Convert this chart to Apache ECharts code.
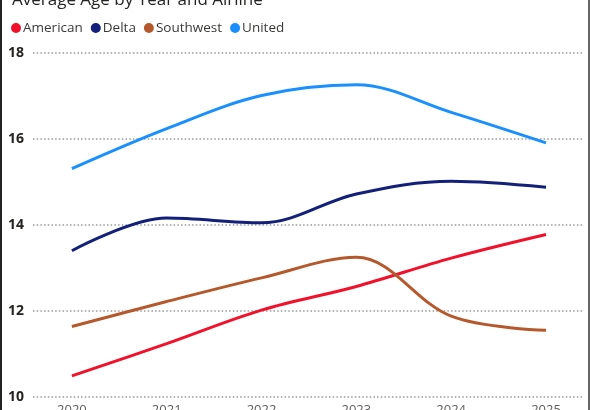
<!DOCTYPE html>
<html>
<head>
<meta charset="utf-8">
<style>
  html, body { margin: 0; padding: 0; background: #fff; }
  #wrap { position: relative; width: 590px; height: 410px; overflow: hidden; }
  #chart { width: 590px; height: 410px; }
  .edge { position: absolute; top: 0; bottom: 0; width: 2px; }
</style>
<script src="https://cdn.jsdelivr.net/npm/echarts@6/dist/echarts.min.js"></script>
</head>
<body>
<div id="wrap">
  <div id="chart"></div>
  <div class="edge" style="left:0;background:#222"></div>
  <div class="edge" style="right:0;background:#666"></div>
</div>
<script>
const years = [2020, 2021, 2022, 2023, 2024, 2025]
const american = [10.49, 11.24, 12.02, 12.57, 13.23, 13.78]
const delta = [13.40, 14.16, 14.05, 14.72, 15.02, 14.88]
const southwest = [11.64, 12.22, 12.77, 13.25, 11.88, 11.55]
const united = [15.31, 16.24, 17.01, 17.26, 16.62, 15.91]
const yTicks = [10, 12, 14, 16, 18]

const font = '"Segoe UI", "Open Sans", "Noto Sans", sans-serif'

const pairs = vals => years.map((y, i) => [y, vals[i]])
const mkLine = (name, vals, color) => ({
    name: name,
    type: 'line',
    data: pairs(vals),
    smooth: 0.35,
    showSymbol: false,
    symbol: 'circle',
    lineStyle: { width: 3, color: color },
    itemStyle: { color: color },
    emphasis: { disabled: true }
})

let chart = echarts.init(document.getElementById('chart'))
chart.setOption({
    animation: false,
    title: {
        text: 'Average Age by Year and Airline',
        left: 7,
        top: -13,
        textStyle: { fontFamily: font, fontSize: 17, fontWeight: 'normal', color: '#252423' }
    },
    legend: {
        left: 6,
        top: 16,
        itemWidth: 10,
        itemHeight: 10,
        itemGap: 8,
        icon: 'circle',
        textStyle: { fontFamily: font, fontSize: 13.5, color: '#3b3a39', padding: [0, 0, 0, -3] },
        data: ['American', 'Delta', 'Southwest', 'United']
    },
    grid: { left: 33, right: 7, top: 53, bottom: 13, containLabel: false, outerBoundsMode: 'none' },
    xAxis: {
        type: 'value',
        min: 2019.59,
        max: 2025.39,
        axisLine: { show: false },
        axisTick: { show: false },
        splitLine: { show: false },
        axisLabel: {
            margin: 7,
            showMinLabel: false,
            showMaxLabel: false,
            fontFamily: font,
            fontSize: 13,
            color: '#605e5c',
            formatter: v => years.includes(Math.round(v)) && Math.abs(v - Math.round(v)) < 1e-6 ? String(Math.round(v)) : ''
        }
    },
    yAxis: {
        type: 'value',
        min: yTicks[0],
        max: yTicks[yTicks.length - 1],
        interval: 2,
        axisLine: { show: false },
        axisTick: { show: false },
        axisLabel: {
            margin: 9,
            fontFamily: font,
            fontSize: 14,
            fontWeight: 'bold',
            color: '#252423'
        },
        splitLine: { lineStyle: { color: '#999', width: 1.5, type: [1.5, 2.2] } }
    },
    series: [
        mkLine('American', american, '#F2112B'),
        mkLine('Delta', delta, '#12207A'),
        mkLine('Southwest', southwest, '#B5592C'),
        mkLine('United', united, '#1A90FF')
    ]
})
</script>
</body>
</html>
